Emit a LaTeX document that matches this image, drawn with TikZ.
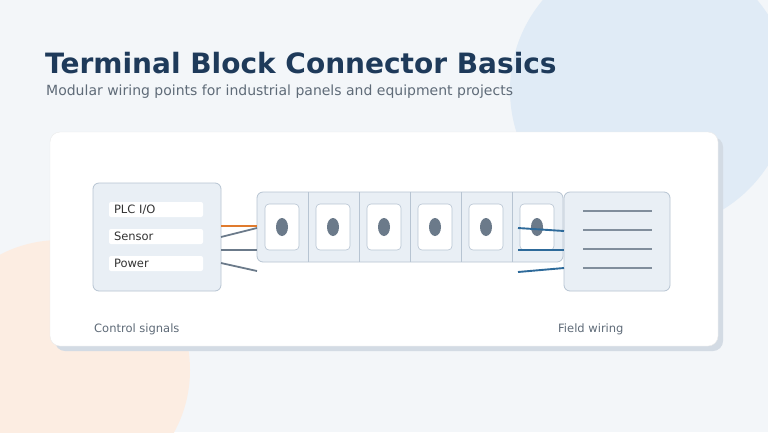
\documentclass[tikz,border=0pt]{standalone}
\usepackage{fontspec}
\setmainfont{DejaVu Sans}
\usetikzlibrary{positioning}
\definecolor{titleblue}{HTML}{1E3A5A}
\definecolor{subgray}{HTML}{5F6B78}
\definecolor{panelfill}{HTML}{E9EFF5}
\definecolor{panelline}{HTML}{B7C4D2}
\definecolor{dotgray}{HTML}{6B7A8A}
\definecolor{wireblue}{HTML}{2E6A9A}
\definecolor{wireorange}{HTML}{E07B2E}
\definecolor{bgpage}{HTML}{F3F6F9}
\definecolor{bgblue}{HTML}{E0EBF6}
\definecolor{bgpeach}{HTML}{FCEDE2}
\definecolor{shadowgray}{HTML}{D3DBE4}
\begin{document}
\begin{tikzpicture}[x=1pt,y=-1pt,
  panel/.style={fill=panelfill, draw=panelline, line width=0.8pt, rounded corners=6pt},
  tag/.style={fill=white, rounded corners=2pt, minimum width=94pt, minimum height=15pt, inner sep=0pt, font=\fontsize{11.5}{13}\selectfont, text=black!80, text width=84pt, align=left},
  slot/.style={fill=white, draw=panelline, line width=0.6pt, rounded corners=4pt},
  wire/.style={line width=2.2pt},
  fieldline/.style={draw=dotgray!85, line width=2.8pt}]
  \useasboundingbox (0,0) rectangle (768,432);
  \fill[bgpage] (0,0) rectangle (768,432);
  \fill[bgblue] (650,90) circle (140);
  \fill[bgpeach] (60,370) circle (130);
  \node[anchor=base west, font=\fontsize{28}{30}\bfseries, text=titleblue, inner sep=0pt] (title) at (45,73) {Terminal Block Connector Basics};
  \node[anchor=base west, font=\fontsize{14}{16}\selectfont, text=subgray, inner sep=0pt] (sub) at (46,95) {Modular wiring points for industrial panels and equipment projects};
  % card
  \fill[shadowgray, rounded corners=10pt] (55,137) rectangle (723,351);
  \fill[white, draw=black!8, rounded corners=10pt] (50,132) rectangle (718,346);
  % source
  \draw[panel] (93,183) rectangle (221,291);
  \node[tag] (plc) at (156,209.5) {PLC I/O};
  \node[tag] (sensor) at (156,236.5) {Sensor};
  \node[tag] (power) at (156,263.5) {Power};
  % rail
  \draw[panel] (257,192) rectangle (563,262);
  \foreach \i in {1,...,5} \draw[panelline, line width=0.8pt] (257+51*\i,192) -- (257+51*\i,262);
  \foreach \i in {0,...,5} {
    \draw[slot] (265+51*\i,204) rectangle (299+51*\i,250);
    \fill[dotgray] (282+51*\i,227) ellipse (6 and 9);
  }
  % field
  \draw[panel] (564,192) rectangle (670,291);
  \foreach \y in {211,230,249,268} \draw[fieldline] (583,\y) -- (652,\y);
  % wires
  \coordinate (l1) at (221,226); \coordinate (r1) at (257,226);
  \coordinate (l2) at (221,237); \coordinate (r2) at (257,228);
  \coordinate (l3) at (221,250); \coordinate (r3) at (257,250);
  \coordinate (l4) at (221,263); \coordinate (r4) at (257,271);
  \draw[wire, wireorange] (l1) -- (r1);
  \draw[wire, dotgray, line width=1.8pt] (l2) -- (r2);
  \draw[wire, dotgray] (l3) -- (r3);
  \draw[wire, dotgray, line width=1.8pt] (l4) -- (r4);
  \coordinate (b1) at (518,228); \coordinate (f1) at (564,231);
  \coordinate (b2) at (518,250); \coordinate (f2) at (564,250);
  \coordinate (b3) at (518,272); \coordinate (f3) at (564,268);
  \foreach \n in {1,2,3} \draw[wireblue, line width=1.9pt] (b\n) -- (f\n);
  \node[anchor=base west, font=\fontsize{11.5}{13}\selectfont, text=subgray, inner sep=0pt] (ctrl) at (94,332) {Control signals};
  \node[anchor=base west, font=\fontsize{11.5}{13}\selectfont, text=subgray, inner sep=0pt] (field) at (558,332) {Field wiring};
\end{tikzpicture}
\end{document}
